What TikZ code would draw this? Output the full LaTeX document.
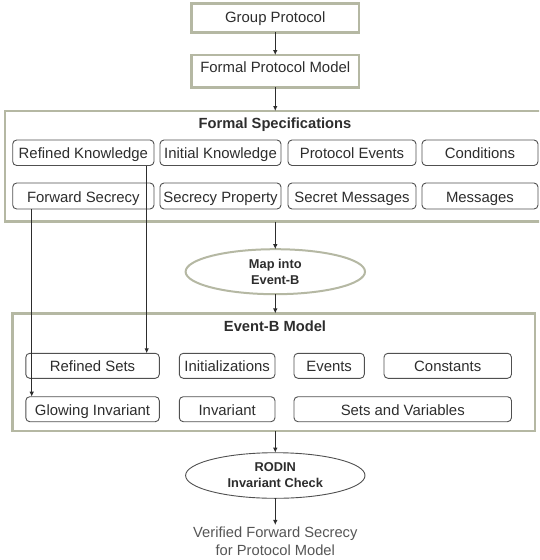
\documentclass[tikz,border=0pt]{standalone}
\usepackage{fontspec}
\setmainfont{Liberation Sans}
\usetikzlibrary{shapes.geometric,arrows.meta,calc}
\definecolor{olv}{RGB}{181,184,163}
\definecolor{txt}{RGB}{45,45,45}
\definecolor{bord}{RGB}{80,80,80}
\definecolor{vtxt}{RGB}{85,85,85}
\begin{document}
\begin{tikzpicture}[x=1pt,y=-1pt,
  every node/.style={inner sep=0pt,outer sep=0pt,text=txt,font=\fontsize{14.9}{17}\selectfont},
  rbox/.style={draw=bord,line width=0.9pt,rounded corners=4pt,minimum height=25.5pt,text height=12.5pt,text depth=0.5pt},
  obox/.style={draw=olv,line width=2.5pt},
  ttl/.style={font=\fontsize{14.7}{17}\selectfont\bfseries,text=txt},
  ell/.style={ellipse,fill=white,minimum width=179.4pt,minimum height=45pt,align=center,font=\fontsize{12.8}{16}\selectfont\bfseries},
  arr/.style={draw=txt,line width=0.9pt,-{Latex[length=5pt,width=4.5pt]}},
]
\useasboundingbox (0,0) rectangle (539,560);
\clip (0,0) rectangle (539,560);

% top boxes
\node[obox,minimum width=167.5pt,minimum height=29pt,text height=11.75pt,text depth=1.95pt] (gp) at (275.25,17.8) {Group Protocol};
\node[obox,minimum width=167.5pt,minimum height=32.3pt,text height=8.6pt,text depth=5.1pt] (fpm) at (275.25,71.2) {Formal Protocol Model};

% formal specifications
\node[obox,minimum width=540pt,minimum height=110.5pt] (fspec) at (275,166.25) {};
\node[ttl] (fst) at (275,125) {Formal Specifications};
\node[rbox,minimum width=141.3pt] (rk) at (83.35,152.75) {Refined Knowledge};
\node[rbox,minimum width=121pt] (ik) at (220.5,152.75) {Initial Knowledge};
\node[rbox,minimum width=128pt] (pe) at (352,152.75) {Protocol Events};
\node[rbox,minimum width=116pt] (co) at (480,152.75) {Conditions};
\node[rbox,minimum width=141.3pt,minimum height=26pt] (fs) at (83.35,196) {Forward Secrecy};
\node[rbox,minimum width=121pt,minimum height=26pt] (sp) at (220.5,196) {Secrecy Property};
\node[rbox,minimum width=128pt,minimum height=26pt] (sm) at (352,196) {Secret Messages};
\node[rbox,minimum width=116pt,minimum height=26pt] (me) at (480,196) {Messages};

% map ellipse
\node[ell,draw=olv,line width=2pt] (map) at (275.3,271.7) {Map into\\Event-B};

% event-b model
\node[obox,minimum width=522.3pt,minimum height=117.7pt] (eb) at (273.85,372.3) {};
\node[ttl] (ebt) at (275,326.7) {Event-B Model};
\node[rbox,minimum width=133.5pt,minimum height=25pt] (rs) at (92.55,365.8) {Refined Sets};
\node[rbox,minimum width=95.7pt,minimum height=25pt] (ini) at (227.15,365.8) {Initializations};
\node[rbox,minimum width=70.3pt,minimum height=25pt] (ev) at (329.15,365.8) {Events};
\node[rbox,minimum width=127.5pt,minimum height=25pt] (cs) at (447.75,365.8) {Constants};
\node[rbox,minimum width=133.5pt,minimum height=25pt] (gi) at (92.55,409.2) {Glowing Invariant};
\node[rbox,minimum width=95.7pt,minimum height=25pt] (iv) at (227.15,409.2) {Invariant};
\node[rbox,minimum width=217.5pt,minimum height=25pt] (sv) at (402.75,409.2) {Sets and Variables};

% rodin ellipse
\node[ell,draw=bord,line width=0.9pt,minimum height=45.6pt] (rod) at (275.3,475.5) {RODIN\\Invariant Check};

% result text
\node[align=center,text=vtxt,font=\fontsize{14.7}{18.3}\selectfont,outer sep=2pt] (ver) at (275.3,541.5) {Verified Forward Secrecy\\for Protocol Model};

% connectors
\draw[arr] (gp.south) -- (fpm.north);
\draw[arr] (fpm.south) -- (fpm.south |- fspec.north);
\draw[arr] (fspec.south -| map.north) -- (map.north);
\draw[arr] (map.south) -- (map.south |- eb.north);
\draw[arr] (rod.north |- eb.south) -- (rod.north);
\draw[arr] (rod.south) -- (ver.north);
\draw[arr] ([xshift=-7.3pt]rk.south east) -- ([xshift=-7.3pt]rk.south east |- rs.north);
\draw[arr] ([xshift=19pt]fs.south west) -- ([xshift=19pt]fs.south west |- gi.north);
\end{tikzpicture}
\end{document}
